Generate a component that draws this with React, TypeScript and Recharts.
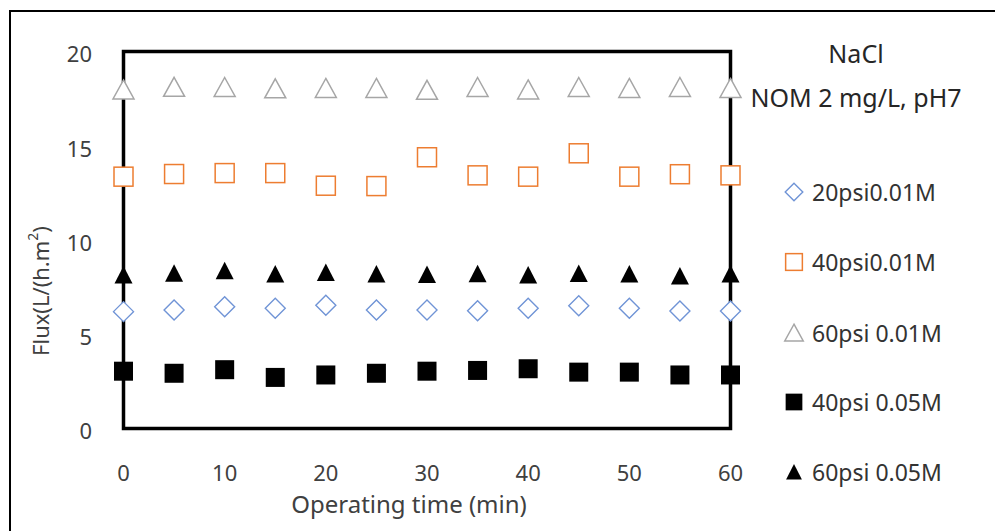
import React from 'react';
import { ScatterChart, Scatter, XAxis, YAxis, ReferenceArea, Legend } from 'recharts';

const times = [0, 5, 10, 15, 20, 25, 30, 35, 40, 45, 50, 55, 60];
const flux20psi001 = [6.2, 6.29, 6.46, 6.38, 6.54, 6.29, 6.29, 6.25, 6.38, 6.51, 6.38, 6.23, 6.23];
const flux40psi001 = [13.36, 13.5, 13.55, 13.55, 12.88, 12.86, 14.39, 13.43, 13.36, 14.6, 13.36, 13.49, 13.43];
const flux60psi001 = [17.96, 18.1, 18.09, 18.02, 18.04, 18.04, 17.94, 18.09, 17.96, 18.09, 18.04, 18.09, 18.04];
const flux40psi005 = [3.04, 2.93, 3.12, 2.71, 2.84, 2.93, 3.04, 3.08, 3.17, 2.99, 2.99, 2.84, 2.84];
const flux60psi005 = [8.14, 8.23, 8.37, 8.2, 8.28, 8.2, 8.17, 8.21, 8.14, 8.22, 8.2, 8.09, 8.2];

const seriesNames = ['20psi0.01M', '40psi0.01M', '60psi 0.01M', '40psi 0.05M', '60psi 0.05M'];
const xTicks = [0, 10, 20, 30, 40, 50, 60];
const yTicks = [0, 5, 10, 15, 20];
const titleLines = ['NaCl', 'NOM 2 mg/L, pH7'];
const xTitle = 'Operating time (min)';

const FONT = '"Noto Sans", sans-serif';
const TICK_COLOR = '#404040';

type Kind = 'diamond' | 'oSquare' | 'oTri' | 'square' | 'tri';
const kinds: Kind[] = ['diamond', 'oSquare', 'oTri', 'square', 'tri'];
const allValues = [flux20psi001, flux40psi001, flux60psi001, flux40psi005, flux60psi005];

function shapeEl(kind: Kind, cx: number, cy: number, scale = 1) {
  switch (kind) {
    case 'diamond': {
      const r = 10 * scale;
      return (
        <polygon
          points={`${cx},${cy - r} ${cx + r},${cy} ${cx},${cy + r} ${cx - r},${cy}`}
          fill="#fff"
          stroke="#7094D6"
          strokeWidth={1.4}
        />
      );
    }
    case 'oSquare': {
      const h = 9.5 * scale;
      return <rect x={cx - h} y={cy - h} width={2 * h} height={2 * h} fill="#fff" stroke="#ED7D31" strokeWidth={1.5} />;
    }
    case 'oTri': {
      const w = 10.5 * scale;
      const t = 10 * scale;
      const b = 9 * scale;
      return (
        <polygon
          points={`${cx},${cy - t} ${cx + w},${cy + b} ${cx - w},${cy + b}`}
          fill="#fff"
          stroke="#A6A6A6"
          strokeWidth={1.5}
        />
      );
    }
    case 'square': {
      const h = 9.5 * scale;
      return <rect x={cx - h} y={cy - h} width={2 * h} height={2 * h} fill="#000" />;
    }
    case 'tri':
    default: {
      const w = 9 * scale;
      const t = 9 * scale;
      const b = 8.5 * scale;
      return <polygon points={`${cx},${cy - t} ${cx + w},${cy + b} ${cx - w},${cy + b}`} fill="#000" />;
    }
  }
}

const makeShape = (kind: Kind) => (props: any) => {
  const { cx, cy } = props;
  if (cx == null || cy == null) return <g />;
  return <g>{shapeEl(kind, cx, cy)}</g>;
};

const legendRowsY = [172, 242, 313, 382, 452];

function LegendContent() {
  return (
    <div style={{ position: 'relative', width: 255, height: 500, fontFamily: FONT }}>
      {titleLines.map((t, i) => (
        <div
          key={t}
          style={{
            position: 'absolute',
            left: 0,
            width: 232,
            top: (i === 0 ? 33 : 77) - 17,
            height: 34,
            lineHeight: '34px',
            textAlign: 'center',
            fontSize: 25,
            color: '#262626',
            whiteSpace: 'nowrap',
          }}
        >
          {t}
        </div>
      ))}
      {seriesNames.map((name, i) => (
        <div key={name}>
          <svg
            width={24}
            height={24}
            style={{ position: 'absolute', left: 54 - 12, top: legendRowsY[i] - 12 }}
          >
            {shapeEl(kinds[i], 12, 12, 0.88)}
          </svg>
          <div
            style={{
              position: 'absolute',
              left: 72,
              top: legendRowsY[i] - 16,
              height: 32,
              lineHeight: '32px',
              fontSize: 23,
              color: '#333',
              whiteSpace: 'nowrap',
            }}
          >
            {name}
          </div>
        </div>
      ))}
    </div>
  );
}

const PLOT_LEFT = 123.5;
const PLOT_TOP = 51.5;
const PLOT_RIGHT = 730.5;
const PLOT_BOTTOM = 428.5;

export default function App() {
  const seriesData = allValues.map((vals) => times.map((t, i) => ({ x: t, y: vals[i] })));
  return (
    <div style={{ position: 'absolute', left: 0, top: 0, width: 995, height: 531, background: '#fff', overflow: 'hidden' }}>
      <div
        style={{
          position: 'absolute',
          left: 9,
          top: 10,
          width: 986,
          height: 521,
          boxSizing: 'border-box',
          borderLeft: '2px solid #000',
          borderTop: '2px solid #000',
        }}
      />
      <div style={{ position: 'absolute', left: 0, top: 0 }}>
        <ScatterChart
          width={995}
          height={531}
          margin={{ top: PLOT_TOP, right: 995 - PLOT_RIGHT, bottom: 0, left: 0 }}
          style={{ fontFamily: FONT }}
        >
          <XAxis
            type="number"
            dataKey="x"
            domain={[0, 60]}
            ticks={xTicks}
            interval={0}
            axisLine={false}
            tickLine={false}
            tickSize={0}
            tickMargin={36.5}
            height={531 - PLOT_BOTTOM}
            tick={{ fill: TICK_COLOR, fontSize: 22, fontFamily: FONT }}
            label={{
              content: () => (
                <text
                  x={409}
                  y={513}
                  textAnchor="middle"
                  fill={TICK_COLOR}
                  fontSize={24}
                  fontFamily={FONT}
                >
                  {xTitle}
                </text>
              ),
            }}
          />
          <YAxis
            type="number"
            dataKey="y"
            domain={[0, 20]}
            ticks={yTicks}
            interval={0}
            axisLine={false}
            tickLine={false}
            tickSize={0}
            tickMargin={31.5}
            width={PLOT_LEFT}
            tick={{ fill: TICK_COLOR, fontSize: 22, fontFamily: FONT, dy: 3 }}
            label={{
              content: () => (
                <text
                  transform="translate(40,291) rotate(-90)"
                  textAnchor="middle"
                  dominantBaseline="central"
                  fill={TICK_COLOR}
                  fontSize={22}
                  fontFamily={FONT}
                >
                  Flux(L/(h.m
                  <tspan dy={-8} fontSize={14}>
                    2
                  </tspan>
                  <tspan dy={8}>)</tspan>
                </text>
              ),
            }}
          />
          <ReferenceArea
            x1={0}
            x2={60}
            y1={0}
            y2={20}
            fill="none"
            fillOpacity={0}
            stroke="#000"
            strokeWidth={3.5}
            strokeOpacity={1}
            ifOverflow="visible"
          />
          {seriesData.map((d, i) => (
            <Scatter
              key={seriesNames[i]}
              name={seriesNames[i]}
              data={d}
              isAnimationActive={false}
              shape={makeShape(kinds[i])}
            />
          ))}
          <Legend
            layout="horizontal"
            align="center"
            verticalAlign="middle"
            width={255}
            height={500}
            wrapperStyle={{ left: 740, top: 20, width: 255, height: 500 }}
            content={() => <LegendContent />}
          />
        </ScatterChart>
      </div>
    </div>
  );
}
